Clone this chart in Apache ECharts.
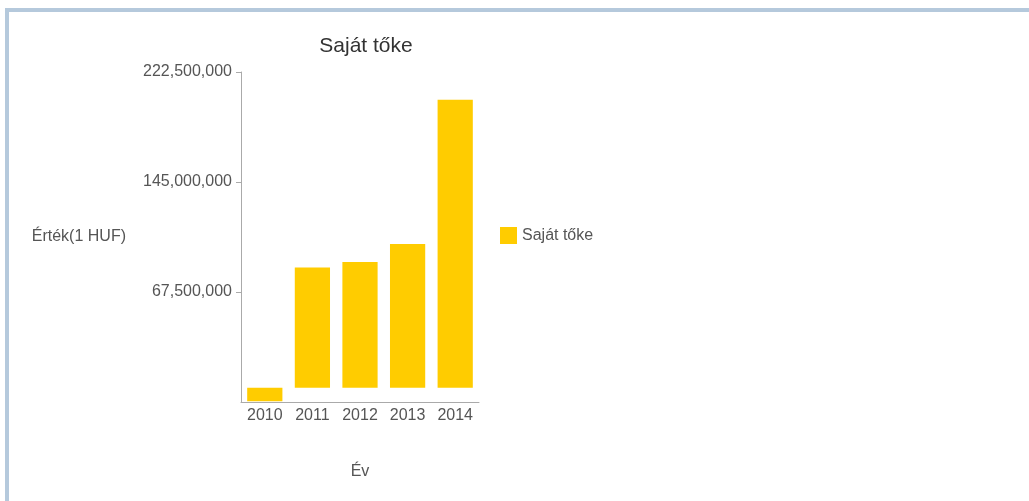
<!DOCTYPE html>
<html>
<head>
<meta charset="utf-8">
<script src="https://cdn.jsdelivr.net/npm/echarts@6/dist/echarts.min.js"></script>
<style>
html,body{margin:0;padding:0;background:#fff;}
#frame{position:absolute;left:5px;top:8px;right:0;bottom:0;border-left:4px solid #b5c9dc;border-top:4px solid #b5c9dc;}
#chart{position:absolute;left:0;top:0;width:1029px;height:501px;}
</style>
</head>
<body>
<div id="frame"></div>
<div id="chart"></div>
<script>
var categories = ['2010', '2011', '2012', '2013', '2014'];
var values = [-9500000, 84700000, 88600000, 101300000, 203000000];
var seriesName = 'Saját tőke';
var titleText = 'Saját tőke';
var yName = 'Érték(1 HUF)';
var xName = 'Év';

var font = 'Liberation Sans, Arial, sans-serif';
var chart = echarts.init(document.getElementById('chart'), null, {renderer: 'canvas'});
chart.setOption({
  backgroundColor: 'transparent',
  animation: false,
  title: {
    text: titleText,
    left: 361, top: 31, textAlign: 'center',
    textStyle: {fontFamily: font, fontSize: 21, fontWeight: 'normal', color: '#333'}
  },
  legend: {
    orient: 'vertical', left: 495, top: 222,
    itemWidth: 17, itemHeight: 17, itemGap: 8,
    icon: 'rect',
    textStyle: {fontFamily: font, fontSize: 16, color: '#555'},
    data: [seriesName]
  },
  grid: {left: 241, right: 550, top: 72, bottom: 99, containLabel: false},
  xAxis: {
    type: 'category', data: categories,
    name: xName, nameLocation: 'middle', nameGap: 62,
    nameTextStyle: {fontFamily: font, fontSize: 16, color: '#555'},
    axisLine: {onZero: false, lineStyle: {color: '#aaa', width: 1}},
    axisTick: {alignWithLabel: true, length: 5, lineStyle: {color: '#aaa'}},
    axisLabel: {fontFamily: font, fontSize: 16, color: '#555', margin: 6}
  },
  yAxis: {
    type: 'value', min: -10000000, max: 222500000, interval: 77500000,
    name: yName, nameLocation: 'middle', nameGap: 115, nameRotate: 0,
    nameTextStyle: {fontFamily: font, fontSize: 16, color: '#555', align: 'right', verticalAlign: 'middle', padding: [14, 0, 0, 0]},
    axisLine: {show: true, lineStyle: {color: '#aaa', width: 1}},
    axisTick: {show: true, length: 5, lineStyle: {color: '#aaa'}},
    splitLine: {show: false},
    axisLabel: {
      fontFamily: font, fontSize: 16, color: '#555', margin: 9, showMinLabel: false,
      formatter: function (v) { return v < 0 ? '' : v.toLocaleString('en-US'); }
    }
  },
  series: [{
    name: seriesName, type: 'bar', data: values,
    barCategoryGap: '26%',
    itemStyle: {color: '#ffcc00'}
  }]
});
</script>
</body>
</html>
